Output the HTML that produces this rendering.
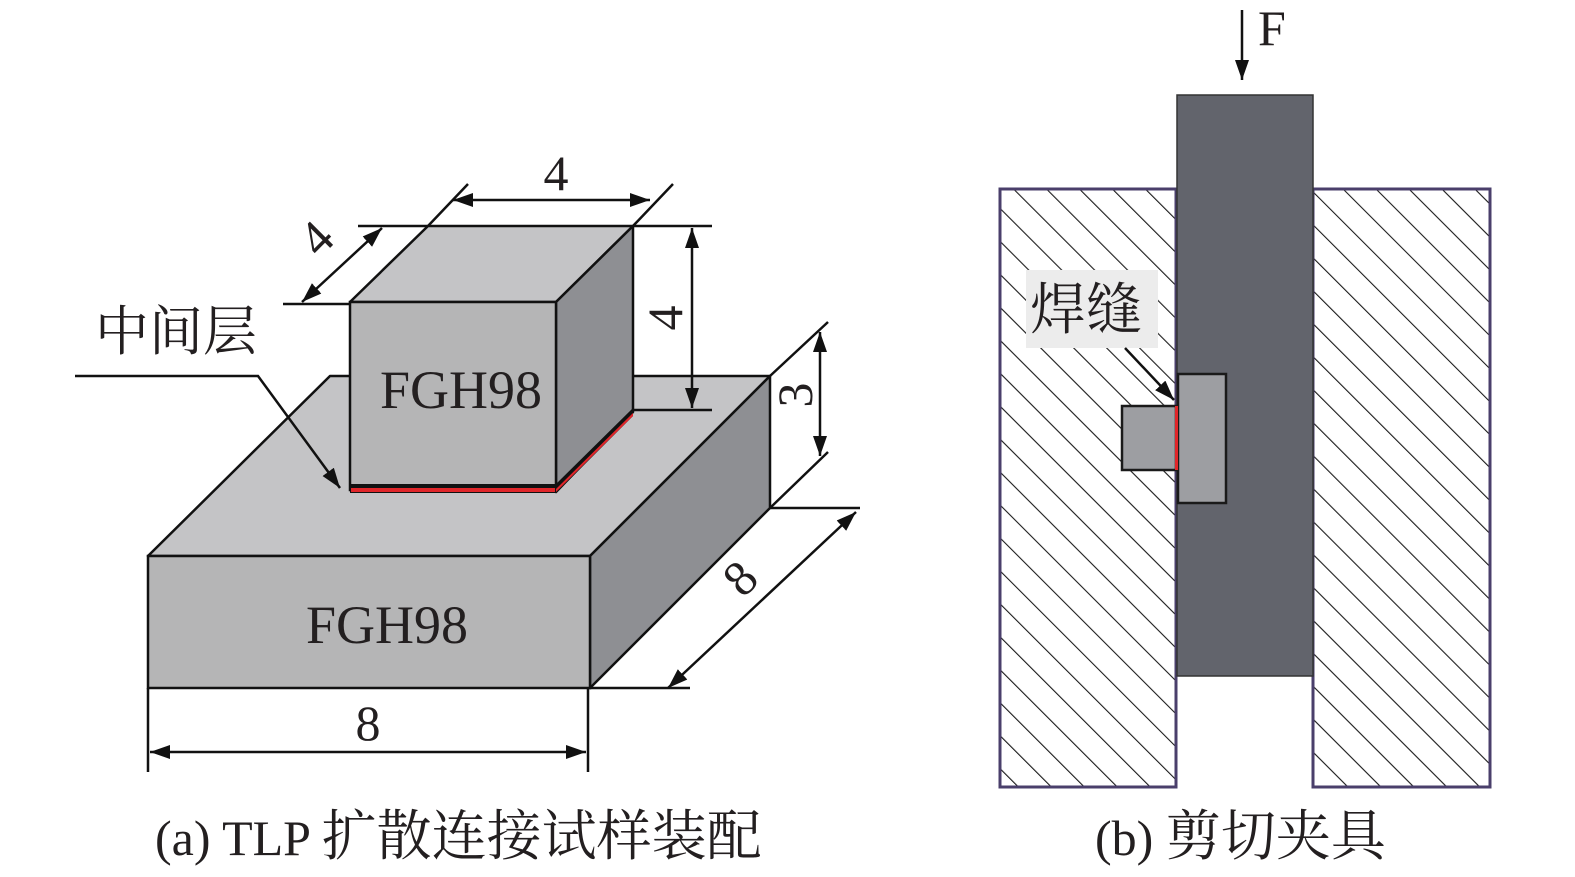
<!DOCTYPE html>
<html><head><meta charset="utf-8"><style>
html,body{margin:0;padding:0;background:#fff;overflow:hidden;width:1575px;height:877px;}
svg{display:block;}
</style></head><body>
<svg width="1575" height="877" viewBox="0 0 1575 877" xmlns="http://www.w3.org/2000/svg" style="font-family:'Liberation Serif','Noto Serif CJK SC',serif;">
<defs>
<marker id="ab" viewBox="0 0 10 10" refX="10" refY="5" markerWidth="20" markerHeight="20" orient="auto-start-reverse" markerUnits="userSpaceOnUse">
<path d="M0,1.5 L10,5 L0,8.5 z" fill="#111"/></marker>
<pattern id="hatch" patternUnits="userSpaceOnUse" width="23.3" height="23.3" patternTransform="rotate(-45)">
<line x1="0" y1="0" x2="0" y2="23.3" stroke="#1a1a1a" stroke-width="2.2"/></pattern>
</defs>
<g fill="#231f20">
<polygon points="148,556 590,556 770,376 330,376" fill="#c4c4c6" stroke="#111" stroke-width="2.5" stroke-linejoin="round"/>
<polygon points="590,556 770,376 770,508 590,688" fill="#8e8f93" stroke="#111" stroke-width="2.5" stroke-linejoin="round"/>
<rect x="148" y="556" width="442" height="132" fill="#b5b5b6" stroke="#111" stroke-width="2.5"/>
<text x="387" y="643" font-size="54" text-anchor="middle" font-family="Liberation Serif, serif">FGH98</text>

<polygon points="350,302 556,302 633,226 428,226" fill="#c4c4c6" stroke="#111" stroke-width="2.5" stroke-linejoin="round"/>
<polygon points="556,302 633,226 633,412 556,492" fill="#8e8f93" stroke="#111" stroke-width="2.5" stroke-linejoin="round"/>
<rect x="350" y="302" width="206" height="188" fill="#b5b5b6" stroke="#111" stroke-width="2.5"/>
<rect x="350" y="484" width="206" height="9" fill="#111"/>
<rect x="351" y="488" width="204" height="4" fill="#e0262a"/>
<polygon points="556,484 633,408 633,416 556,493" fill="#111"/>
<polygon points="556,489 633,413 633,416 556,492" fill="#e0262a"/>
<text x="461" y="408" font-size="54" text-anchor="middle" font-family="Liberation Serif, serif">FGH98</text>

<g stroke="#111" stroke-width="2.5" fill="none">
<line x1="428" y1="226" x2="468" y2="184"/>
<line x1="633" y1="226" x2="673" y2="184"/>
<line x1="453" y1="200" x2="650" y2="200" marker-start="url(#ab)" marker-end="url(#ab)"/>
<line x1="358" y1="226" x2="428" y2="226"/>
<line x1="283" y1="304" x2="350" y2="304"/>
<line x1="382" y1="228" x2="302" y2="302" marker-start="url(#ab)" marker-end="url(#ab)"/>
<line x1="633" y1="226" x2="712" y2="226"/>
<line x1="633" y1="410" x2="712" y2="410"/>
<line x1="692" y1="228" x2="692" y2="408" marker-start="url(#ab)" marker-end="url(#ab)"/>
<line x1="770" y1="376" x2="828" y2="322"/>
<line x1="770" y1="508" x2="828" y2="452"/>
<line x1="820" y1="332" x2="820" y2="456" marker-start="url(#ab)" marker-end="url(#ab)"/>
<line x1="770" y1="508" x2="860" y2="508"/>
<line x1="590" y1="688" x2="690" y2="688"/>
<line x1="856" y1="512" x2="668" y2="688" marker-start="url(#ab)" marker-end="url(#ab)"/>
<line x1="148" y1="688" x2="148" y2="772"/>
<line x1="588" y1="688" x2="588" y2="772"/>
<line x1="150" y1="752" x2="586" y2="752" marker-start="url(#ab)" marker-end="url(#ab)"/>
<polyline points="75,376 258,376 340,488" marker-end="url(#ab)"/>
</g>
<g font-family="Liberation Serif, serif" font-size="50" text-anchor="middle">
<text x="556" y="190">4</text>
<text x="0" y="17" transform="translate(316,238) rotate(-45)">4</text>
<text x="0" y="17" transform="translate(665,318) rotate(-90)">4</text>
<text x="0" y="17" transform="translate(795,395) rotate(-90)">3</text>
<text x="0" y="17" transform="translate(740,578) rotate(-45)">8</text>
<text x="368" y="740">8</text>
</g>
<text x="95" y="350" font-size="54" font-family="Noto Serif CJK SC, serif">中间层</text>

<rect x="1000" y="189" width="176" height="598" fill="url(#hatch)" stroke="#4a3f6b" stroke-width="3"/>
<rect x="1313" y="189" width="177" height="598" fill="url(#hatch)" stroke="#4a3f6b" stroke-width="3"/>
<rect x="1177" y="95" width="136" height="581" fill="#62646c" stroke="#333" stroke-width="1.5"/>
<rect x="1026" y="270" width="132" height="78" fill="#ececec"/>
<text x="1030" y="329" font-size="56" font-family="Noto Serif CJK SC, serif">焊缝</text>
<line x1="1125" y1="348" x2="1174" y2="400" stroke="#111" stroke-width="2.5" marker-end="url(#ab)"/>
<rect x="1122" y="406" width="54" height="64" fill="#9d9ea2" stroke="#1a1a1a" stroke-width="2.5"/>
<rect x="1178" y="374" width="48" height="129" fill="#9d9ea2" stroke="#1a1a1a" stroke-width="2.5"/>
<rect x="1175" y="406" width="3" height="64" fill="#e0262a"/>
<line x1="1242" y1="10" x2="1242" y2="80" stroke="#111" stroke-width="2.5" marker-end="url(#ab)"/>
<text x="1258" y="45" font-size="50" font-family="Liberation Serif, serif">F</text>

<text x="155" y="855" font-size="50" font-family="Liberation Serif, Noto Serif CJK SC, serif">(a) TLP <tspan font-size="55" font-family="Noto Serif CJK SC, serif">扩散连接试样装配</tspan></text>
<text x="1095" y="855" font-size="50" font-family="Liberation Serif, Noto Serif CJK SC, serif">(b) <tspan font-size="55" font-family="Noto Serif CJK SC, serif">剪切夹具</tspan></text>
</g>
</svg>
</body></html>
